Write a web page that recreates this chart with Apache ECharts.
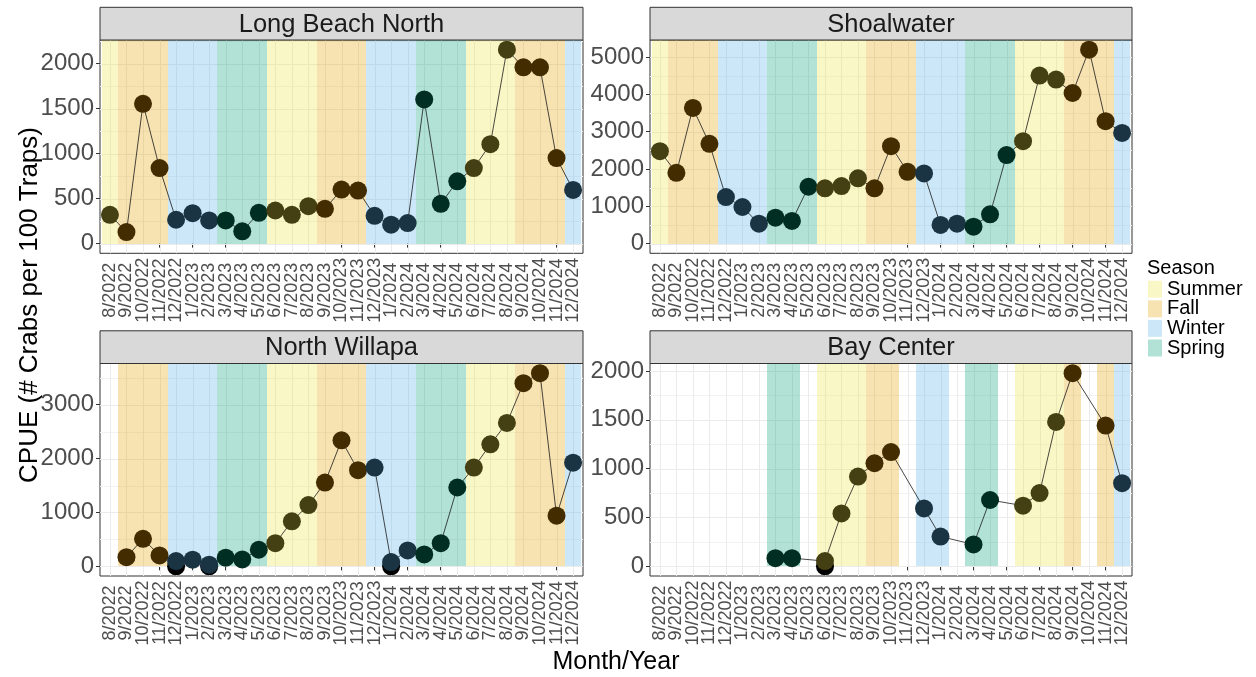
<!DOCTYPE html>
<html><head><meta charset="utf-8">
<script src="https://cdn.jsdelivr.net/npm/echarts@6/dist/echarts.min.js"></script>
<style>html,body{margin:0;padding:0;background:#fff}#c{width:1256px;height:677px}</style>
</head><body><div id="c"></div>
<script>
// ---------------- data ----------------
const months = ['8/2022','9/2022','10/2022','11/2022','12/2022','1/2023','2/2023','3/2023','4/2023','5/2023','6/2023','7/2023','8/2023','9/2023','10/2023','11/2023','12/2023','1/2024','2/2024','3/2024','4/2024','5/2024','6/2024','7/2024','8/2024','9/2024','10/2024','11/2024','12/2024'];
const monthSeason = ['Summer','Fall','Fall','Fall','Winter','Winter','Winter','Spring','Spring','Spring','Summer','Summer','Summer','Fall','Fall','Fall','Winter','Winter','Winter','Spring','Spring','Spring','Summer','Summer','Summer','Fall','Fall','Fall','Winter'];
const seasons = ['Summer','Fall','Winter','Spring'];
const sites = ['Long Beach North','Shoalwater','North Willapa','Bay Center'];

const cpueLongBeachNorth = [320,128,1554,840,265,338,257,257,136,342,368,320,416,386,600,589,309,210,228,1602,442,692,840,1105,2155,1959,1959,950,597];
const cpueShoalwater = [2479,1898,3636,2674,1249,981,535,695,607,1524,1481,1543,1749,1481,2612,1925,1882,500,535,455,786,2372,2746,4503,4396,4037,5198,3281,2968];
const cpueNorthWillapa = [null,171,511,203,98,123,30,160,129,308,430,836,1138,1555,2338,1784,1832,80,295,221,430,1463,1832,2264,2662,3400,3585,941,1924];
const cpueBayCenter = [null,null,null,null,null,null,null,84,84,null,54,542,919,1055,1170,null,593,305,null,224,679,null,621,750,1478,1977,null,1441,851];

// extra black points (zero catches) shown beneath coloured points
const zeroMonthsNorthWillapa = ['12/2022','2/2023','1/2024'];
const zeroValuesNorthWillapa = [0,0,0];
const zeroMonthsBayCenter = ['6/2023'];
const zeroValuesBayCenter = [0];

const yTicksLongBeachNorth = [0,500,1000,1500,2000];
const yTicksShoalwater = [0,1000,2000,3000,4000,5000];
const yTicksNorthWillapa = [0,1000,2000,3000];
const yTicksBayCenter = [0,500,1000,1500,2000];

// ---------------- styles ----------------
const rectColors = {Summer:'rgba(240,228,66,0.3)', Fall:'rgba(230,159,0,0.3)', Winter:'rgba(86,180,233,0.3)', Spring:'rgba(0,158,115,0.3)'};
const pointColors = {Summer:'#454013', Fall:'#422C00', Winter:'#1A3444', Spring:'#002E22'};
const FONT = '"Liberation Sans", Arial, sans-serif';

const panels = [
  {values: cpueLongBeachNorth, ticks: yTicksLongBeachNorth, zm: [], zv: [], left:100, top:40, width:483, height:213.3},
  {values: cpueShoalwater, ticks: yTicksShoalwater, zm: [], zv: [], left:650, top:40, width:482, height:213.3},
  {values: cpueNorthWillapa, ticks: yTicksNorthWillapa, zm: zeroMonthsNorthWillapa, zv: zeroValuesNorthWillapa, left:100, top:363.5, width:483, height:212.5},
  {values: cpueBayCenter, ticks: yTicksBayCenter, zm: zeroMonthsBayCenter, zv: zeroValuesBayCenter, left:650, top:363.5, width:482, height:212.5}
];
const STRIP_H = 32.7;
const LABEL_OFFSET = 37;
const xs = months.map((m,i)=>i+1);

const grids=[], xAxes=[], yAxes=[], series=[], graphics=[];
panels.forEach((p,k)=>{
  const vals = p.values.filter(v=>v!=null);
  const dmax = Math.max(...vals), dmin = 0;
  const pad = (dmax-dmin)*0.05;
  const ymin = dmin-pad, ymax = dmax+pad;
  grids.push({left:p.left, top:p.top, width:p.width, height:p.height, show:true, borderColor:'#333333', borderWidth:1, backgroundColor:'transparent', containLabel:false});
  xAxes.push({type:'value', gridIndex:k, min:0.4, max:29.6,
    axisLine:{show:false}, splitLine:{show:false},
    axisTick:{show:true, customValues:xs, length:4, lineStyle:{color:'#333333', width:1}},
    axisLabel:{show:false}});
  yAxes.push({type:'value', gridIndex:k, min:ymin, max:ymax,
    axisLine:{show:false}, splitLine:{show:false},
    axisTick:{show:true, customValues:p.ticks, length:4, lineStyle:{color:'#333333', width:1}},
    axisLabel:{show:true, customValues:p.ticks, fontSize:24, color:'#4D4D4D', fontFamily:FONT, margin:6,
      showMinLabel:true, showMaxLabel:true, formatter:v=>String(Math.round(v))}});
  // grid lines
  const step = p.ticks[1]-p.ticks[0];
  const gridData = [];
  p.ticks.forEach(t=>gridData.push([0,t]));
  for (let m = p.ticks[0]-step/2; m <= p.ticks[p.ticks.length-1]+step/2+1e-9; m += step) {
    if (m>=ymin && m<=ymax) gridData.push([1,m]);
  }
  xs.forEach(x=>gridData.push([2,x]));
  series.push({type:'custom', xAxisIndex:k, yAxisIndex:k, z:1, silent:true, data:gridData,
    renderItem:(params, api)=>{
      const cs = params.coordSys;
      const kind = api.value(0), v = api.value(1);
      if (kind===2) {
        const x = Math.round(api.coord([v, 0])[0]) + 0.5;
        return {type:'line', shape:{x1:x,y1:cs.y,x2:x,y2:cs.y+cs.height}, style:{stroke:'#EBEBEB', lineWidth:1}};
      }
      const y = Math.round(api.coord([1, v])[1]) + 0.5;
      return {type:'line', shape:{x1:cs.x,y1:y,x2:cs.x+cs.width,y2:y}, style:{stroke: kind===0?'#EBEBEB':'#F2F2F2', lineWidth:1}};
    }});
  // x tick labels (month names), placed through the x scale
  series.push({type:'custom', xAxisIndex:k, yAxisIndex:k, z:6, silent:true, clip:false,
    data: xs.map(x=>[x, 0]),
    renderItem:(params, api)=>{
      const cs = params.coordSys;
      const x = api.coord([api.value(0), 0])[0];
      return {type:'text', x:x, y:cs.y+cs.height+LABEL_OFFSET, rotation:Math.PI/2,
        style:{text:months[api.value(0)-1], fill:'#4D4D4D', font:'18px '+FONT, textAlign:'center', textVerticalAlign:'middle'}};
    }});
  // season rectangles (one per month with data)
  const rectData = [];
  p.values.forEach((v,i)=>{ if (v!=null) rectData.push([i+1, seasons.indexOf(monthSeason[i])]); });
  series.push({type:'custom', xAxisIndex:k, yAxisIndex:k, z:2, silent:true, data:rectData,
    renderItem:(params, api)=>{
      const cs = params.coordSys;
      const x = api.value(0), s = seasons[api.value(1)];
      const a = api.coord([x-0.5, 0]), b = api.coord([x+0.5, 0]);
      const x0 = Math.max(cs.x, Math.round(a[0])), x1 = Math.min(cs.x+cs.width, Math.round(b[0]));
      const y0 = cs.y, y1 = Math.round(a[1]);
      return {type:'rect', shape:{x:x0, y:y0, width:x1-x0, height:y1-y0}, style:{fill:rectColors[s]}};
    }});
  // line
  const lineData = [];
  p.values.forEach((v,i)=>{ if (v!=null) lineData.push([i+1, v]); });
  series.push({type:'line', xAxisIndex:k, yAxisIndex:k, z:3, silent:true, data:lineData, symbol:'none',
    lineStyle:{color:'#1A1A1A', width:0.8}, animation:false});
  // black zero points
  series.push({type:'scatter', xAxisIndex:k, yAxisIndex:k, z:4, silent:true,
    data:p.zm.map((m,j)=>[months.indexOf(m)+1, p.zv[j]]), symbolSize:18, itemStyle:{color:'#000000', opacity:1}});
  // coloured points
  const ptData = [];
  p.values.forEach((v,i)=>{ if (v!=null) ptData.push([i+1, v, monthSeason[i]]); });
  series.push({type:'scatter', xAxisIndex:k, yAxisIndex:k, z:5, silent:true, data:ptData, symbolSize:18,
    itemStyle:{opacity:1, color:pp=>pointColors[pp.data[2]]}});
  // strip
  graphics.push({type:'rect', shape:{x:p.left, y:p.top-STRIP_H, width:p.width, height:STRIP_H},
    style:{fill:'#D9D9D9', stroke:'#333333', lineWidth:1}, z:10});
  graphics.push({type:'text', x:p.left+p.width/2, y:p.top-STRIP_H/2+1,
    style:{text:sites[k], fill:'#1A1A1A', font:'25.5px '+FONT, textAlign:'center', textVerticalAlign:'middle'}, z:11});
});

// axis titles
graphics.push({type:'text', x:616, y:662, style:{text:'Month/Year', fill:'#000', font:'25px '+FONT, textAlign:'center', textVerticalAlign:'middle'}});
graphics.push({type:'text', x:30, y:305, rotation:Math.PI/2, style:{text:'CPUE (# Crabs per 100 Traps)', fill:'#000', font:'26px '+FONT, textAlign:'center', textVerticalAlign:'middle'}});
// legend
graphics.push({type:'text', x:1147, y:268, style:{text:'Season', fill:'#000', font:'20px '+FONT, textAlign:'left', textVerticalAlign:'middle'}});
seasons.forEach((s,i)=>{
  const y = 280.7 + i*19.6;
  graphics.push({type:'rect', shape:{x:1148, y:y, width:14, height:17}, style:{fill:rectColors[s]}});
  graphics.push({type:'text', x:1167, y:y+8.5, style:{text:s, fill:'#000', font:'20px '+FONT, textAlign:'left', textVerticalAlign:'middle'}});
});

const chart = echarts.init(document.getElementById('c'), null, {renderer:'canvas'});
chart.setOption({animation:false, backgroundColor:'#fff', grid:grids, xAxis:xAxes, yAxis:yAxes, series:series, graphic:graphics});
</script></body></html>
